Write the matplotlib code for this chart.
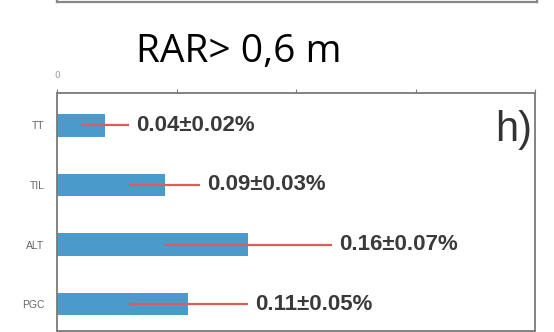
import matplotlib
matplotlib.use("Agg")
import matplotlib.pyplot as plt

categories = ["TT", "TIL", "ALT", "PGC"]
means = [0.04, 0.09, 0.16, 0.11]
errors = [0.02, 0.03, 0.07, 0.05]
value_labels = ["0.04±0.02%", "0.09±0.03%", "0.16±0.07%", "0.11±0.05%"]
x_ticks = [0.0, 0.1, 0.2, 0.3, 0.4]
x_ticklabels = ["0", "", "", "", ""]
title = "RAR> 0,6 m"
panel = "h)"

W, H = 554, 332
fig = plt.figure(figsize=(W / 100, H / 100), dpi=100)
fig.patch.set_facecolor("white")

def px_axes(l, t, r, b):
    return fig.add_axes([l / W, 1 - b / H, (r - l) / W, (b - t) / H])

# Previous panel's bottom edge (cut off at top)
top = px_axes(57, -60, 537, 2)
top.set_xticks([]); top.set_yticks([])
for s in top.spines.values():
    s.set_color("#888888"); s.set_linewidth(1.6)

ax = px_axes(57, 93, 535, 331)
y = list(range(len(categories)))
ax.barh(y, means, height=0.38, color="#4a9bcb", zorder=2)
ax.errorbar(means, y, xerr=errors, fmt="none", ecolor="#e05a5a",
            elinewidth=1.6, capsize=0, zorder=3)
for yi, m, e, lab in zip(y, means, errors, value_labels):
    ax.annotate(lab, xy=(m + e, yi), xytext=(5, 0), textcoords="offset points",
                va="center", ha="left", fontsize=16, fontweight="bold",
                color="#3a3a3a", family="Liberation Sans")

ax.set_xlim(0, 0.4)
ax.set_ylim(3.45, -0.54)
ax.set_yticks(y)
ax.set_yticklabels(categories, fontsize=7.5, color="#666666", family="Liberation Sans")
ax.tick_params(axis="y", length=0, pad=9)
ax.xaxis.tick_top()
ax.set_xticks(x_ticks)
ax.set_xticklabels(x_ticklabels, fontsize=6.5, color="#999999")
ax.tick_params(axis="x", length=3, color="#777777", pad=6)
for s in ax.spines.values():
    s.set_color("#7a7a7a"); s.set_linewidth(1.3)

ax.text(0.993, 0.93, panel, transform=ax.transAxes, ha="right", va="top",
        fontsize=30, color="#333333", family="Liberation Sans")

fig.text(238.5 / W, 1 - 62 / H, title, ha="center", va="baseline",
         fontsize=28, color="black", family="Open Sans")

fig.savefig("out.png", dpi=100, facecolor="white")
